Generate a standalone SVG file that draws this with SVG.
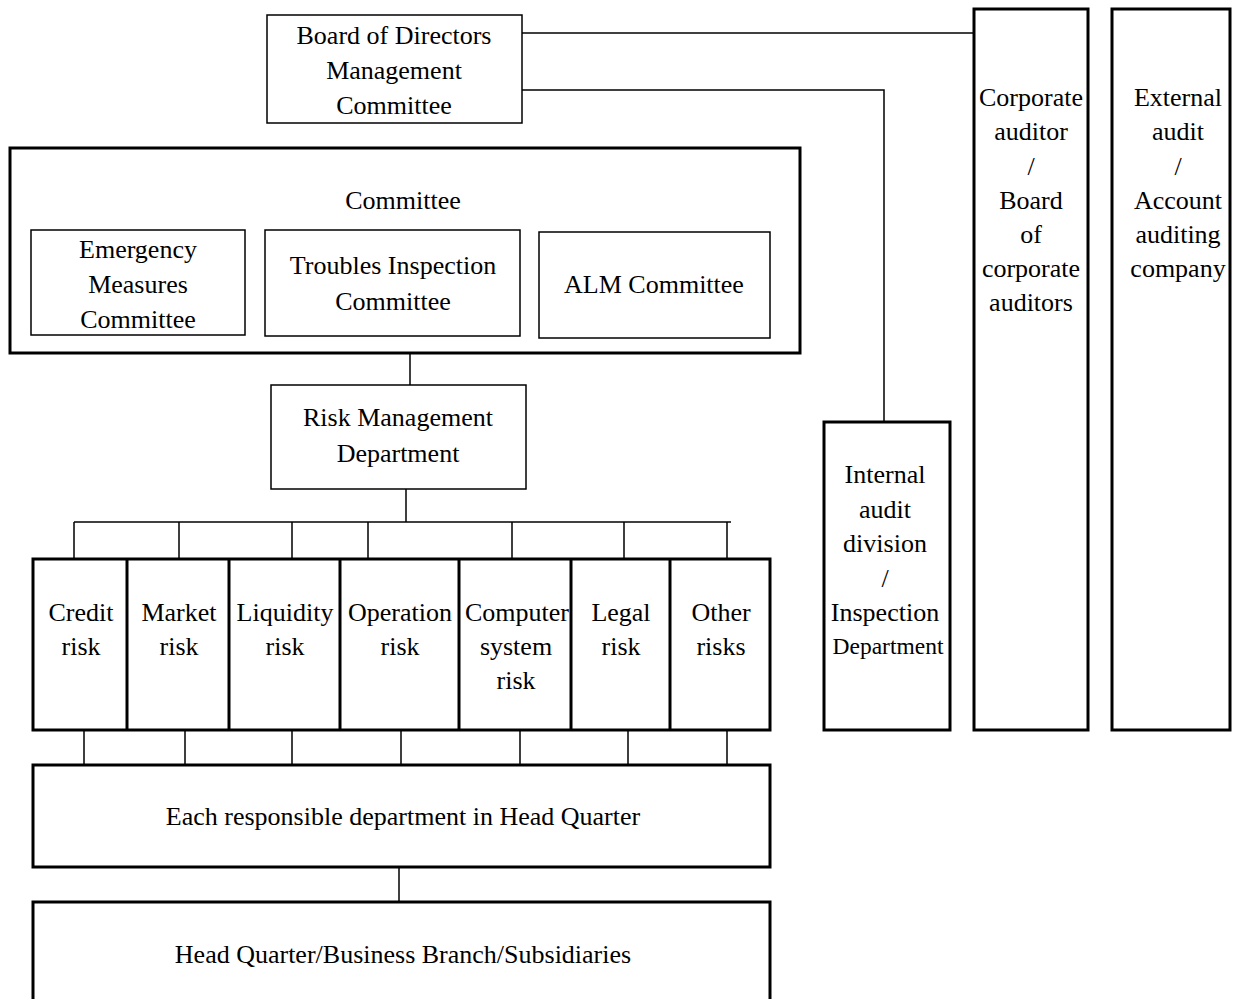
<svg xmlns="http://www.w3.org/2000/svg" width="1244" height="999" viewBox="0 0 1244 999">
<style>
text{font-family:"Liberation Serif","Times New Roman",serif;font-size:26px;fill:#000;text-anchor:middle}
.thin{fill:#fff;stroke:#000;stroke-width:1.5}
.thick{fill:#fff;stroke:#000;stroke-width:3}
.c{fill:none;stroke:#000;stroke-width:1.5}
.d{stroke:#000;stroke-width:3}
</style>
<rect width="1244" height="999" fill="#fff"/>
<g id="connectors">
<path class="c" d="M522 33H974"/>
<path class="c" d="M522 90H884V422"/>
<path class="c" d="M410 353V385"/>
<path class="c" d="M406 489V522"/>
<path class="c" d="M74 522H731"/>
<path class="c" d="M74 522V559M179 522V559M292 522V559M368 522V559M512 522V559M624 522V559M727 522V559"/>
<path class="c" d="M84 730V765M185 730V765M292 730V765M401 730V765M520 730V765M628 730V765M727 730V765"/>
<path class="c" d="M399 867V902"/>
</g>
<g id="board">
<rect class="thin" x="267" y="15" width="255" height="108"/>
<text x="394" y="44">Board of Directors</text>
<text x="394" y="79">Management</text>
<text x="394" y="114">Committee</text>
</g>
<g id="committee">
<rect class="thick" x="10" y="148" width="790" height="205"/>
<text x="403" y="209">Committee</text>
</g>
<g id="emergency">
<rect class="thin" x="31" y="230" width="214" height="105"/>
<text x="138" y="258">Emergency</text>
<text x="138" y="293">Measures</text>
<text x="138" y="328">Committee</text>
</g>
<g id="troubles">
<rect class="thin" x="265" y="230" width="255" height="106"/>
<text x="393" y="274">Troubles Inspection</text>
<text x="393" y="310">Committee</text>
</g>
<g id="alm">
<rect class="thin" x="539" y="232" width="231" height="106"/>
<text x="654" y="293">ALM Committee</text>
</g>
<g id="riskmgmt">
<rect class="thin" x="271" y="385" width="255" height="104"/>
<text x="398" y="426">Risk Management</text>
<text x="398" y="462">Department</text>
</g>
<g id="risks">
<rect class="thick" x="33" y="559" width="737" height="171"/>
<path class="d" d="M127 559V730M229 559V730M340 559V730M459 559V730M571 559V730M670 559V730"/>
</g>
<g id="credit"><text x="81" y="621">Credit</text><text x="81" y="655">risk</text></g>
<g id="market"><text x="179" y="621">Market</text><text x="179" y="655">risk</text></g>
<g id="liquidity"><text x="285" y="621">Liquidity</text><text x="285" y="655">risk</text></g>
<g id="operation"><text x="400" y="621">Operation</text><text x="400" y="655">risk</text></g>
<g id="computer"><text x="517" y="621">Computer</text><text x="516" y="655">system</text><text x="516" y="689">risk</text></g>
<g id="legal"><text x="621" y="621">Legal</text><text x="621" y="655">risk</text></g>
<g id="other"><text x="721" y="621">Other</text><text x="721" y="655">risks</text></g>
<g id="eachdept">
<rect class="thick" x="33" y="765" width="737" height="102"/>
<text x="403" y="825">Each responsible department in Head Quarter</text>
</g>
<g id="hq">
<rect class="thick" x="33" y="902" width="737" height="110"/>
<text x="403" y="963">Head Quarter/Business Branch/Subsidiaries</text>
</g>
<g id="internal">
<rect class="thick" x="824" y="422" width="126" height="308"/>
<text x="885" y="483">Internal</text>
<text x="885" y="518">audit</text>
<text x="885" y="552">division</text>
<text x="885" y="587">/</text>
<text x="885" y="621">Inspection</text>
<text x="888" y="654" style="font-size:23.5px">Department</text>
</g>
<g id="corporate">
<rect class="thick" x="974" y="9" width="114" height="721"/>
<text x="1031" y="106">Corporate</text>
<text x="1031" y="140">auditor</text>
<text x="1031" y="175">/</text>
<text x="1031" y="209">Board</text>
<text x="1031" y="243">of</text>
<text x="1031" y="277">corporate</text>
<text x="1031" y="311">auditors</text>
</g>
<g id="external">
<rect class="thick" x="1112" y="9" width="118" height="721"/>
<text x="1178" y="106">External</text>
<text x="1178" y="140">audit</text>
<text x="1178" y="175">/</text>
<text x="1178" y="209">Account</text>
<text x="1178" y="243">auditing</text>
<text x="1178" y="277">company</text>
</g>
</svg>
